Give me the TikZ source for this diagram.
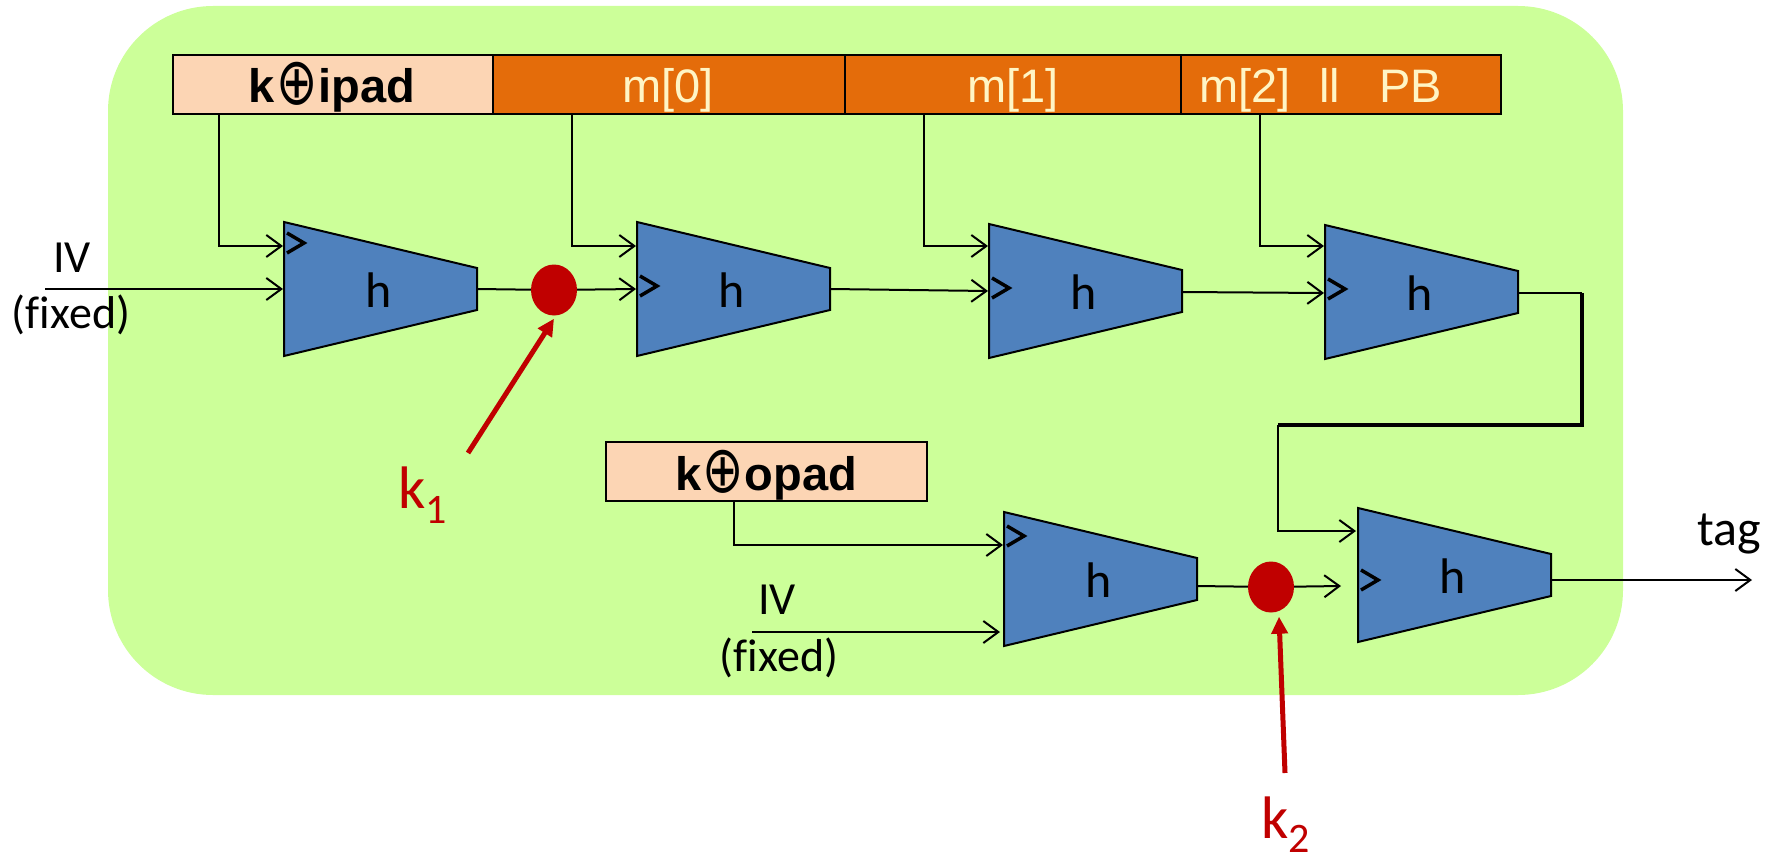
\documentclass[tikz,border=0pt]{standalone}
\usepackage{graphicx}
\usepackage{fontspec}
\setmainfont{Carlito}[Ligatures=NoCommon]
\newfontfamily\arialf{Liberation Sans}
\newfontfamily\dejaf{DejaVu Sans}
\usetikzlibrary{arrows.meta,shapes.geometric}
\definecolor{bggreen}{HTML}{CCFF99}
\definecolor{peach}{HTML}{FCD5B4}
\definecolor{borange}{HTML}{E46C0A}
\definecolor{hblue}{HTML}{4F81BD}
\definecolor{kred}{HTML}{C00000}
\definecolor{cream}{HTML}{FFF5C5}
\newcommand\xorsym{\hspace{1pt}\raisebox{-2pt}{\scalebox{1.05}[1.4]{\dejaf\mdseries ⊕}}\hspace{1pt}}
\newcommand\htrap[4]{%
  \draw[trapst] (#2,#3-67) -- (#2+193,#3-21) -- (#2+193,#3+21) -- (#2,#3+67) -- cycle;
  \node[hlab] (#1) at (#2+95,#3+18) {h};
  \coordinate (#1out) at (#2+193,#4);
}
\newcommand\chev[2]{\draw[chevst] (#1+3,#2-10) -- (#1+20,#2) -- (#1+3,#2+10);}
\begin{document}
\begin{tikzpicture}[x=1pt,y=-1pt,
  trapst/.style={fill=hblue,draw=black,line width=2pt,line join=miter},
  hlab/.style={anchor=base,inner sep=0pt,font=\fontsize{50}{54}\selectfont},
  chevst/.style={line width=3.5pt,line cap=butt,line join=miter},
  thinline/.style={line width=2pt},
  conn/.style={line width=2pt,-{Straight Barb[length=15pt,width=22pt,line width=2pt]}},
  thickline/.style={line width=4.5pt,line join=miter},
  redarrow/.style={kred,line width=5pt,-{Triangle[length=17pt,width=16pt]}},
  barbox/.style={draw=black,line width=2pt,minimum height=59pt,inner sep=0pt},
  boldtxt/.style={anchor=base,inner sep=0pt,font=\arialf\bfseries\fontsize{47}{50}\selectfont},
  msgtxt/.style={anchor=base,inner sep=0pt,text=cream,font=\arialf\fontsize{47}{50}\selectfont},
  caltxt/.style={anchor=base,inner sep=0pt,font=\fontsize{46}{50}\selectfont},
  ktxt/.style={anchor=base west,inner sep=0pt,text=kred,font=\fontsize{60}{64}\selectfont},
  dot/.style={ellipse,fill=kred,minimum width=46pt,minimum height=51pt,inner sep=0pt}
]
\useasboundingbox (0,0) rectangle (1779,861);
\fill[bggreen,rounded corners=105pt] (108,6) rectangle (1623,695);

% top bar
\node[barbox,fill=peach,minimum width=320pt] (ipad) at (333,84.5) {};
\node[barbox,fill=borange,minimum width=352pt] (m0) at (669,84.5) {};
\node[barbox,fill=borange,minimum width=336pt] (m1) at (1013,84.5) {};
\node[barbox,fill=borange,minimum width=320pt] (m2) at (1341,84.5) {};
\node[boldtxt] (ipadt) at (332,103) {k\xorsym ipad};
\node[msgtxt] (m0t) at (668,103) {m[0]};
\node[msgtxt] (m1t) at (1013,103) {m[1]};
\node[msgtxt,anchor=base west] (m2t) at (1199,103) {m[2]\hspace{28.6pt}ll\hspace{39pt}PB};

% compression functions
\htrap{T1}{284}{289}{289}
\htrap{T2}{637}{289}{289}
\htrap{T3}{989}{291}{292}
\htrap{T4}{1325}{292}{293}
\htrap{T5}{1004}{579}{586}
\htrap{T6}{1358}{575}{580}
\chev{284}{243}
\chev{637}{286}
\chev{989}{288}
\chev{1325}{289}
\chev{1004}{536}
\chev{1358}{580}

\coordinate (T1a) at (283,246);
\coordinate (T1b) at (283,289);
\coordinate (T2a) at (636,246);
\coordinate (T2b) at (636,289);
\coordinate (T3a) at (988,246);
\coordinate (T3b) at (988,291);
\coordinate (T4a) at (1324,246);
\coordinate (T4b) at (1324,293);
\coordinate (T5a) at (1003,545);
\coordinate (T5b) at (1000,632);
\coordinate (T6a) at (1356,531);
\coordinate (T6b) at (1341,586);

% red dots
\node[dot] (d1) at (554,290) {};
\node[dot] (d2) at (1271,587) {};

% inner hash connectors
\coordinate (ivl) at (45,289);
\node[caltxt] (iv1) at (72,272) {IV};
\node[caltxt] (fx1) at (71,328) {(fixed)};
\draw[conn] (ivl) -- (T1b);
\draw[conn] ([xshift=47pt]ipad.south west) |- (T1a);
\draw[conn] ([xshift=80pt]m0.south west) |- (T2a);
\draw[conn] ([xshift=80pt]m1.south west) |- (T3a);
\draw[conn] ([xshift=80pt]m2.south west) |- (T4a);
\draw[thinline] (T1out) -- (d1);
\draw[conn] (d1) -- (T2b);
\draw[conn] (T2out) -- (T3b);
\draw[conn] (T3out) -- (T4b);

% loop to outer hash
\coordinate (la) at (1582,293);
\coordinate (lb) at (1582,425);
\coordinate (lc) at (1278,425);
\draw[thinline] (T4out) -- (la);
\draw[thickline] (la) -- (lb) -- (lc);
\draw[conn] (lc) |- (T6a);

% outer hash
\node[barbox,fill=peach,minimum width=321pt] (opad) at (766.5,471.5) {};
\node[boldtxt] (opadt) at (766,490) {k\xorsym opad};
\draw[conn] ([xshift=129pt]opad.south west) |- (T5a);
\coordinate (ivr) at (752,632);
\node[caltxt] (iv2) at (777,614) {IV};
\node[caltxt] (fx2) at (779,671) {(fixed)};
\draw[conn] (ivr) -- (T5b);
\draw[thinline] (T5out) -- (d2);
\draw[conn] (d2) -- (T6b);
\coordinate (tagend) at (1752,580);
\draw[conn] (T6out) -- (tagend);
\node[caltxt,font=\fontsize{50}{54}\selectfont] (tag) at (1729,545) {tag};

% keys
\node[ktxt] (k1) at (398,508) {k\raisebox{-15pt}{\fontsize{42}{44}\selectfont 1}};
\node[ktxt] (k2) at (1261,838) {k\raisebox{-14pt}{\fontsize{42}{44}\selectfont 2}};
\coordinate (k1tail) at (468,453);
\coordinate (k2tail) at (1285,773);
\draw[redarrow] (k1tail) -- ([yshift=-3pt]d1.south);
\draw[redarrow] (k2tail) -- ([xshift=8pt,yshift=-4pt]d2.south);
\end{tikzpicture}
\end{document}
